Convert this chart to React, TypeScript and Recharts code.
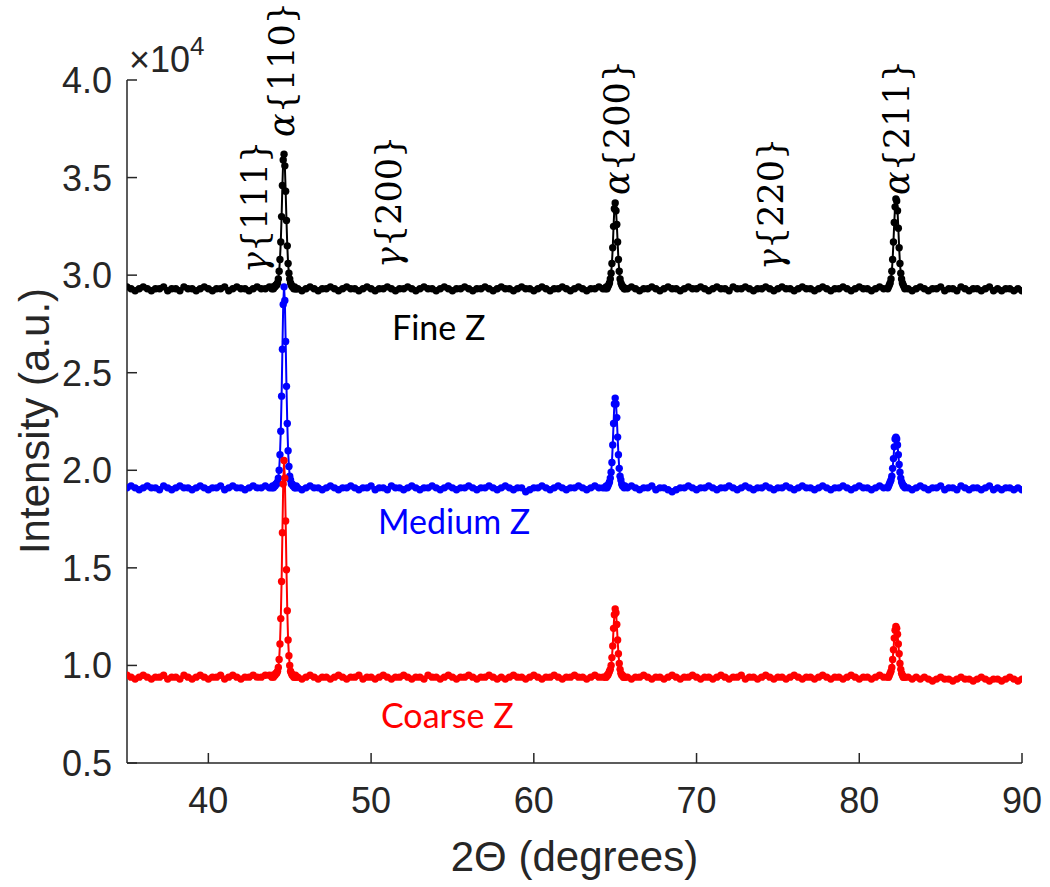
import React from 'react';
import { LineChart, Line, XAxis, YAxis } from 'recharts';

// scan grid: coarse steps on the flat background, fine steps across the peaks
const scanSegments: [number, number, number][] = [
  [35.0, 43.75, 0.25],
  [43.9, 45.4, 0.05],
  [45.5, 64.25, 0.25],
  [64.4, 65.6, 0.05],
  [65.75, 81.75, 0.25],
  [81.8, 82.8, 0.05],
  [83.0, 90.0, 0.25],
];

const angles = scanSegments.flatMap(([from, to, step]) => {
  const n = Math.round((to - from) / step);
  return Array.from({ length: n + 1 }, (_, i) => +(from + i * step).toFixed(2));
});

// intensities in units of 10^4 counts
const fineZ = [
  // 35.00 - 43.75
  2.94, 2.93, 2.92, 2.93, 2.94, 2.93, 2.92, 2.93, 2.93, 2.94,
  2.92, 2.93, 2.93, 2.92, 2.94, 2.93, 2.93, 2.92, 2.93, 2.94,
  2.93, 2.92, 2.93, 2.93, 2.94, 2.92, 2.93, 2.94, 2.93, 2.93,
  2.92, 2.93, 2.94, 2.93, 2.93, 2.94,
  // 43.90 - 45.40  alpha{110}
  2.93, 2.94, 2.93, 2.94, 2.94, 2.95, 2.95, 2.96, 2.98, 3.02,
  3.08, 3.17, 3.30, 3.46, 3.59, 3.62, 3.56, 3.43, 3.28, 3.15,
  3.06, 3.01, 2.98, 2.96, 2.95, 2.94, 2.94, 2.93, 2.94, 2.93,
  2.93,
  // 45.50 - 64.25
  2.93, 2.92, 2.93, 2.94, 2.93, 2.92, 2.93, 2.93, 2.94, 2.93,
  2.92, 2.93, 2.94, 2.93, 2.93, 2.92, 2.93, 2.94, 2.93, 2.92,
  2.93, 2.93, 2.94, 2.93, 2.92, 2.93, 2.93, 2.94, 2.93, 2.92,
  2.93, 2.94, 2.93, 2.93, 2.92, 2.93, 2.94, 2.93, 2.92, 2.93,
  2.93, 2.94, 2.93, 2.92, 2.93, 2.93, 2.94, 2.93, 2.92, 2.93,
  2.94, 2.93, 2.93, 2.92, 2.93, 2.94, 2.93, 2.93, 2.92, 2.93,
  2.94, 2.93, 2.92, 2.93, 2.93, 2.94, 2.93, 2.92, 2.93, 2.94,
  2.93, 2.92, 2.93, 2.93, 2.94, 2.93,
  // 64.40 - 65.60  alpha{200}
  2.93, 2.94, 2.93, 2.94, 2.95, 2.96, 2.98, 3.01, 3.06, 3.14,
  3.25, 3.34, 3.37, 3.33, 3.26, 3.17, 3.08, 3.02, 2.98, 2.96,
  2.95, 2.94, 2.94, 2.93, 2.93,
  // 65.75 - 81.75
  2.93, 2.94, 2.93, 2.92, 2.93, 2.93, 2.94, 2.93, 2.92, 2.93,
  2.94, 2.93, 2.93, 2.92, 2.93, 2.94, 2.93, 2.93, 2.94, 2.93,
  2.92, 2.93, 2.94, 2.93, 2.93, 2.92, 2.94, 2.93, 2.93, 2.94,
  2.93, 2.92, 2.93, 2.93, 2.94, 2.93, 2.92, 2.93, 2.94, 2.93,
  2.93, 2.92, 2.93, 2.94, 2.93, 2.93, 2.92, 2.93, 2.94, 2.93,
  2.92, 2.93, 2.93, 2.94, 2.93, 2.92, 2.93, 2.94, 2.93, 2.93,
  2.92, 2.93, 2.94, 2.93, 2.93,
  // 81.80 - 82.80  alpha{211}
  2.94, 2.95, 2.96, 2.98, 3.02, 3.08, 3.17, 3.27, 3.35, 3.39,
  3.38, 3.33, 3.24, 3.14, 3.06, 3.01, 2.98, 2.96, 2.95, 2.94,
  2.93,
  // 83.00 - 90.00
  2.93, 2.92, 2.93, 2.94, 2.93, 2.92, 2.93, 2.93, 2.94, 2.92,
  2.93, 2.93, 2.92, 2.94, 2.93, 2.92, 2.93, 2.93, 2.92, 2.93,
  2.94, 2.92, 2.93, 2.92, 2.93, 2.93, 2.92, 2.93, 2.92,
];

const mediumZ = [
  // 35.00 - 43.75
  1.91, 1.92, 1.91, 1.90, 1.91, 1.92, 1.91, 1.91, 1.90, 1.92,
  1.91, 1.90, 1.91, 1.92, 1.91, 1.91, 1.90, 1.91, 1.92, 1.91,
  1.90, 1.91, 1.91, 1.92, 1.90, 1.91, 1.92, 1.91, 1.91, 1.90,
  1.91, 1.92, 1.91, 1.91, 1.92, 1.91,
  // 43.90 - 45.40  alpha{110}
  1.91, 1.92, 1.91, 1.92, 1.92, 1.93, 1.93, 1.94, 1.96, 2.00,
  2.08, 2.20, 2.38, 2.62, 2.85, 2.94, 2.87, 2.66, 2.43, 2.24,
  2.10, 2.02, 1.97, 1.95, 1.93, 1.93, 1.92, 1.92, 1.91, 1.91,
  1.92,
  // 45.50 - 64.25
  1.91, 1.90, 1.91, 1.92, 1.91, 1.91, 1.90, 1.91, 1.92, 1.91,
  1.90, 1.91, 1.91, 1.92, 1.91, 1.90, 1.91, 1.91, 1.92, 1.90,
  1.91, 1.91, 1.90, 1.92, 1.91, 1.91, 1.90, 1.91, 1.92, 1.91,
  1.90, 1.91, 1.91, 1.92, 1.91, 1.90, 1.91, 1.92, 1.91, 1.90,
  1.91, 1.91, 1.92, 1.91, 1.90, 1.91, 1.91, 1.92, 1.91, 1.90,
  1.91, 1.92, 1.91, 1.90, 1.91, 1.91, 1.89, 1.90, 1.91, 1.91,
  1.92, 1.91, 1.90, 1.91, 1.92, 1.91, 1.90, 1.91, 1.91, 1.92,
  1.91, 1.90, 1.91, 1.92, 1.91, 1.91,
  // 64.40 - 65.60  alpha{200}
  1.91, 1.92, 1.91, 1.92, 1.93, 1.94, 1.96, 1.99, 2.04, 2.13,
  2.24, 2.34, 2.37, 2.34, 2.27, 2.17, 2.08, 2.01, 1.97, 1.95,
  1.93, 1.92, 1.92, 1.91, 1.92,
  // 65.75 - 81.75
  1.91, 1.92, 1.91, 1.90, 1.91, 1.91, 1.92, 1.90, 1.91, 1.91,
  1.90, 1.89, 1.90, 1.91, 1.91, 1.92, 1.91, 1.90, 1.91, 1.91,
  1.92, 1.91, 1.90, 1.91, 1.91, 1.92, 1.91, 1.90, 1.91, 1.92,
  1.91, 1.90, 1.91, 1.91, 1.92, 1.91, 1.90, 1.91, 1.91, 1.92,
  1.91, 1.90, 1.91, 1.92, 1.91, 1.91, 1.90, 1.91, 1.92, 1.91,
  1.90, 1.91, 1.91, 1.92, 1.91, 1.90, 1.91, 1.92, 1.91, 1.91,
  1.90, 1.91, 1.92, 1.91, 1.91,
  // 81.80 - 82.80  alpha{211}
  1.92, 1.93, 1.94, 1.95, 1.97, 2.01, 2.06, 2.12, 2.16, 2.17,
  2.16, 2.13, 2.08, 2.03, 1.99, 1.96, 1.94, 1.93, 1.92, 1.92,
  1.91,
  // 83.00 - 90.00
  1.91, 1.90, 1.91, 1.92, 1.91, 1.90, 1.91, 1.91, 1.92, 1.90,
  1.91, 1.91, 1.90, 1.92, 1.91, 1.90, 1.91, 1.91, 1.90, 1.91,
  1.92, 1.90, 1.91, 1.90, 1.91, 1.91, 1.90, 1.91, 1.90,
];

const coarseZ = [
  // 35.00 - 43.75
  0.95, 0.94, 0.93, 0.94, 0.95, 0.94, 0.93, 0.94, 0.94, 0.95,
  0.93, 0.94, 0.94, 0.93, 0.95, 0.94, 0.93, 0.94, 0.95, 0.94,
  0.93, 0.94, 0.94, 0.95, 0.93, 0.94, 0.95, 0.94, 0.93, 0.94,
  0.94, 0.95, 0.94, 0.94, 0.95, 0.95,
  // 43.90 - 45.40  alpha{110}
  0.94, 0.95, 0.94, 0.95, 0.95, 0.96, 0.96, 0.97, 0.99, 1.03,
  1.11, 1.24, 1.43, 1.68, 1.93, 2.05, 1.96, 1.74, 1.49, 1.28,
  1.13, 1.05, 1.00, 0.97, 0.96, 0.95, 0.95, 0.94, 0.94, 0.95,
  0.94,
  // 45.50 - 64.25
  0.94, 0.93, 0.94, 0.95, 0.94, 0.93, 0.94, 0.94, 0.93, 0.94,
  0.95, 0.94, 0.93, 0.94, 0.94, 0.95, 0.93, 0.94, 0.94, 0.93,
  0.94, 0.95, 0.94, 0.93, 0.94, 0.94, 0.95, 0.94, 0.93, 0.94,
  0.94, 0.93, 0.95, 0.94, 0.94, 0.93, 0.94, 0.95, 0.94, 0.93,
  0.94, 0.94, 0.95, 0.94, 0.93, 0.94, 0.94, 0.95, 0.94, 0.93,
  0.94, 0.93, 0.94, 0.95, 0.94, 0.94, 0.93, 0.94, 0.95, 0.94,
  0.93, 0.94, 0.94, 0.95, 0.94, 0.93, 0.94, 0.94, 0.95, 0.94,
  0.94, 0.93, 0.94, 0.95, 0.94, 0.94,
  // 64.40 - 65.60  alpha{200}
  0.94, 0.94, 0.95, 0.95, 0.96, 0.97, 0.98, 1.00, 1.04, 1.10,
  1.19, 1.26, 1.29, 1.27, 1.21, 1.13, 1.06, 1.01, 0.98, 0.96,
  0.95, 0.95, 0.94, 0.94, 0.94,
  // 65.75 - 81.75
  0.94, 0.93, 0.94, 0.94, 0.95, 0.94, 0.93, 0.94, 0.94, 0.93,
  0.94, 0.95, 0.94, 0.93, 0.94, 0.94, 0.95, 0.94, 0.93, 0.94,
  0.94, 0.93, 0.94, 0.95, 0.94, 0.93, 0.94, 0.94, 0.95, 0.93,
  0.94, 0.94, 0.93, 0.94, 0.95, 0.94, 0.93, 0.94, 0.94, 0.93,
  0.94, 0.95, 0.94, 0.93, 0.94, 0.94, 0.93, 0.94, 0.95, 0.94,
  0.93, 0.94, 0.94, 0.93, 0.94, 0.95, 0.94, 0.93, 0.94, 0.94,
  0.93, 0.94, 0.95, 0.94, 0.94,
  // 81.80 - 82.80  alpha{211}
  0.94, 0.95, 0.96, 0.97, 0.99, 1.03, 1.08, 1.14, 1.18, 1.20,
  1.19, 1.16, 1.11, 1.06, 1.01, 0.98, 0.96, 0.95, 0.94, 0.94,
  0.94,
  // 83.00 - 90.00
  0.94, 0.93, 0.94, 0.93, 0.94, 0.93, 0.92, 0.93, 0.94, 0.93,
  0.93, 0.92, 0.93, 0.94, 0.93, 0.93, 0.92, 0.93, 0.94, 0.93,
  0.92, 0.93, 0.93, 0.92, 0.93, 0.94, 0.93, 0.92, 0.93,
];

const xTicks = [40, 50, 60, 70, 80, 90];
const yTicks = [0.5, 1.0, 1.5, 2.0, 2.5, 3.0, 3.5, 4.0];

const series = [
  { key: 'fine', name: 'Fine Z', color: '#000000', values: fineZ },
  { key: 'medium', name: 'Medium Z', color: '#0000ff', values: mediumZ },
  { key: 'coarse', name: 'Coarse Z', color: '#ff0000', values: coarseZ },
];

const peakLabels = [
  { phase: 'γ', hkl: '{111}', cx: 255, bottom: 273, boxed: false },
  { phase: 'α', hkl: '{110}', cx: 282, bottom: 137, boxed: true },
  { phase: 'γ', hkl: '{200}', cx: 389, bottom: 268, boxed: false },
  { phase: 'α', hkl: '{200}', cx: 617, bottom: 195, boxed: true },
  { phase: 'γ', hkl: '{220}', cx: 771, bottom: 270, boxed: false },
  { phase: 'α', hkl: '{211}', cx: 897, bottom: 195, boxed: true },
];

const seriesLabels = [
  { text: 'Fine Z', color: '#000000', x: 392, y: 340 },
  { text: 'Medium Z', color: '#0000ff', x: 378, y: 534 },
  { text: 'Coarse Z', color: '#ff0000', x: 381, y: 728 },
];

const data = angles.map((angle, i) => {
  const row: any = { angle };
  series.forEach(s => { row[s.key] = s.values[i]; });
  return row;
});

const AXIS = '#262626';
const SANS = '"Liberation Sans", Arial, Helvetica, sans-serif';
const TICK_LEN = 10;

const BottomTick = ({ x, y, payload }: any) => (
  <g>
    <line x1={x} x2={x} y1={y} y2={y - TICK_LEN} stroke={AXIS} strokeWidth={1.5} />
    <text x={x} y={y + 50} textAnchor="middle" fontFamily={SANS} fontSize={36} fill={AXIS}>
      {payload.value}
    </text>
  </g>
);

const TopTick = ({ x, y }: any) => (
  <line x1={x} x2={x} y1={y} y2={y + TICK_LEN} stroke={AXIS} strokeWidth={1.5} />
);

const LeftTick = ({ x, y, payload }: any) => (
  <g>
    <line x1={x} x2={x + TICK_LEN} y1={y} y2={y} stroke={AXIS} strokeWidth={1.5} />
    <text x={x - 15} y={y} dy={13} textAnchor="end" fontFamily={SANS} fontSize={36} fill={AXIS}>
      {Number(payload.value).toFixed(1)}
    </text>
  </g>
);

const RightTick = ({ x, y }: any) => (
  <line x1={x} x2={x - TICK_LEN} y1={y} y2={y} stroke={AXIS} strokeWidth={1.5} />
);

export default function App() {
  return (
    <div style={{ position: 'absolute', left: 0, top: 0, width: 1050, height: 887, background: '#fff' }}>
      <LineChart width={1050} height={887} data={data} margin={{ top: 80, right: 28, bottom: 0, left: 0 }}>
        <XAxis
          xAxisId="b"
          dataKey="angle"
          type="number"
          domain={[35, 90]}
          ticks={xTicks}
          interval={0}
          allowDataOverflow
          height={124}
          tickSize={0}
          tickMargin={0}
          tickLine={false}
          axisLine={{ stroke: AXIS, strokeWidth: 1.5 }}
          tick={BottomTick}
          label={{
            content: () => (
              <text x={574.5} y={871} textAnchor="middle" fontFamily={SANS} fontSize={42} fill={AXIS}>
                2Θ (degrees)
              </text>
            ),
          }}
        />
        <XAxis
          xAxisId="t"
          orientation="top"
          dataKey="angle"
          type="number"
          domain={[35, 90]}
          ticks={xTicks}
          interval={0}
          allowDataOverflow
          height={0}
          tickSize={0}
          tickMargin={0}
          tickLine={false}
          axisLine={{ stroke: AXIS, strokeWidth: 1.5 }}
          tick={TopTick}
        />
        <YAxis
          yAxisId="l"
          type="number"
          domain={[0.5, 4]}
          ticks={yTicks}
          interval={0}
          allowDataOverflow
          width={127}
          tickSize={0}
          tickMargin={0}
          tickLine={false}
          axisLine={{ stroke: AXIS, strokeWidth: 1.5 }}
          tick={LeftTick}
          label={{
            content: () => (
              <text
                transform="translate(49, 421) rotate(-90)"
                textAnchor="middle"
                fontFamily={SANS}
                fontSize={42}
                fill={AXIS}
              >
                Intensity (a.u.)
              </text>
            ),
          }}
        />
        <YAxis
          yAxisId="r"
          orientation="right"
          type="number"
          domain={[0.5, 4]}
          ticks={yTicks}
          interval={0}
          allowDataOverflow
          width={0}
          tickSize={0}
          tickMargin={0}
          tickLine={false}
          axisLine={{ stroke: AXIS, strokeWidth: 1.5 }}
          tick={RightTick}
        />
        {series.map(s => (
          <Line
            key={s.key}
            xAxisId="b"
            yAxisId="l"
            type="linear"
            dataKey={s.key}
            name={s.name}
            stroke={s.color}
            strokeWidth={2}
            dot={{ r: 3.7, fill: s.color, stroke: 'none' }}
            activeDot={false}
            isAnimationActive={false}
          />
        ))}
      </LineChart>
      <svg
        width={1050}
        height={887}
        style={{ position: 'absolute', left: 0, top: 0, pointerEvents: 'none' }}
      >
        <text x={129} y={72} fontFamily={SANS} fontSize={36} fill={AXIS}>
          ×10<tspan dy={-17} fontSize={26}>4</tspan>
        </text>
        {peakLabels.map(p => (
          <g key={p.phase + p.hkl}>
            {p.boxed && <rect x={p.cx - 30} y={62} width={58} height={36} fill="#fff" />}
            <text
              transform={`translate(${p.cx}, ${p.bottom}) rotate(-90)`}
              dominantBaseline="central"
              fontFamily='"DejaVu Serif", "Liberation Serif", serif'
              fontSize={35}
              fill="#000"
            >
              <tspan fontStyle="italic">{p.phase}</tspan>
              {p.hkl}
            </text>
          </g>
        ))}
        {seriesLabels.map(l => (
          <text key={l.text} x={l.x} y={l.y} fontFamily="Lato, 'Open Sans', sans-serif" fontSize={34} fill={l.color}>
            {l.text}
          </text>
        ))}
      </svg>
    </div>
  );
}
